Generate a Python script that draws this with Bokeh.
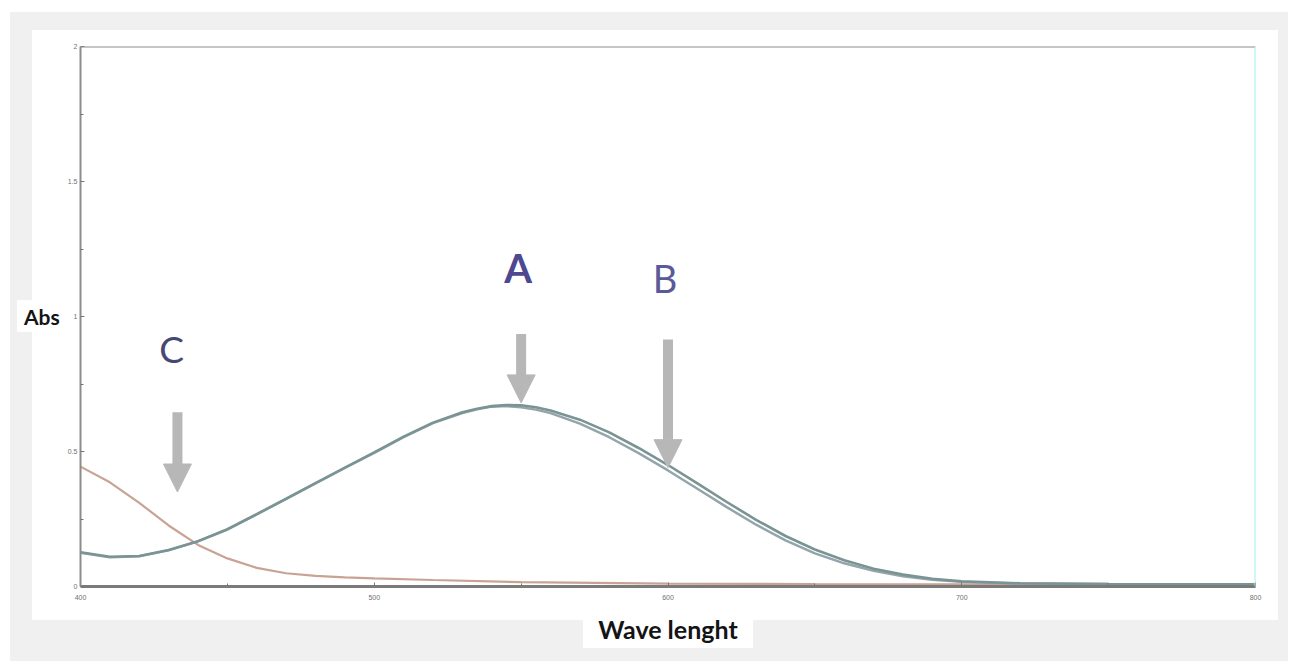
from bokeh.plotting import figure
from bokeh.models import Range1d, FixedTicker, Label, Span, Arrow, NormalHead
from bokeh.embed import file_html
from bokeh.resources import INLINE

# ---------------- data ----------------
wl_ab = [400, 410, 420, 430, 440, 450, 460, 470, 480, 490, 500, 510, 520, 530, 535, 540, 545, 550,
         555, 560, 570, 580, 590, 600, 610, 620, 630, 640, 650, 660, 670, 680, 690, 700, 720, 750, 800]
abs_a = [0.127, 0.110, 0.113, 0.135, 0.168, 0.212, 0.268, 0.325, 0.383, 0.440, 0.497, 0.555,
         0.607, 0.645, 0.658, 0.668, 0.672, 0.671, 0.664, 0.652, 0.618, 0.571, 0.513, 0.450,
         0.382, 0.313, 0.247, 0.187, 0.137, 0.097, 0.066, 0.044, 0.029, 0.019, 0.012, 0.009, 0.008]
abs_b = [0.125, 0.108, 0.112, 0.134, 0.167, 0.211, 0.267, 0.324, 0.382, 0.439, 0.495, 0.553,
         0.605, 0.642, 0.656, 0.666, 0.668, 0.664, 0.655, 0.642, 0.603, 0.553, 0.494, 0.430,
         0.362, 0.294, 0.229, 0.171, 0.123, 0.086, 0.058, 0.038, 0.025, 0.017, 0.011, 0.009, 0.008]
wl_c = [400, 410, 420, 430, 440, 450, 460, 470, 480, 490, 500, 520, 550, 600, 650, 700, 800]
abs_c = [0.444, 0.386, 0.310, 0.226, 0.154, 0.104, 0.069, 0.049, 0.039, 0.034, 0.030, 0.024,
         0.016, 0.011, 0.009, 0.008, 0.007]

x_ticks = [400, 500, 600, 700, 800]
x_minor = [450, 550, 650, 750]
y_ticks = [0, 0.5, 1, 1.5, 2]
y_minor = [0.25, 0.75, 1.25, 1.75]
y_tick_labels = ["0", "0.5", "1", "1.5", "2"]

# annotation arrows and letters
marker_names = ["A", "B", "C"]
arrow_x = [550, 600, 433]
arrow_top = [0.935, 0.915, 0.645]
arrow_tip = [0.68, 0.44, 0.35]
letter_x = [549, 599, 431]
letter_y = [1.178, 1.144, 0.881]

# ---------------- figure ----------------
W, H = 1298, 661
p = figure(width=W, height=H, output_backend="svg", toolbar_location=None,
           x_range=Range1d(400, 800), y_range=Range1d(0, 2),
           min_border_left=80, min_border_right=43, min_border_top=46, min_border_bottom=75)
p.border_fill_color = None
p.background_fill_color = "white"
p.grid.visible = False
p.outline_line_color = None

# page-like backdrop: gray band with white panels (CSS on the plot element)
p.styles = {
    "background": (
        "linear-gradient(#ffffff,#ffffff) 17px 300px / 47px 32px no-repeat, "
        "linear-gradient(#ffffff,#ffffff) 583px 608px / 170px 40px no-repeat, "
        "linear-gradient(#ffffff,#ffffff) 32px 30px / 1246px 590px no-repeat, "
        "linear-gradient(#f0f0f0,#f0f0f0) 10px 12px / 1278px 649px no-repeat, "
        "#ffffff"
    )
}

# axes
for ax in (p.xaxis[0], p.yaxis[0]):
    ax.major_label_text_font_size = "7px"
    ax.major_label_text_color = "#707070"
    ax.major_tick_in = 4
    ax.major_tick_out = 0
    ax.minor_tick_in = 3
    ax.minor_tick_out = 0
    ax.major_tick_line_color = "#777777"
    ax.minor_tick_line_color = "#777777"
    ax.axis_label_text_font = "Lato"
    ax.axis_label_text_font_style = "bold"
    ax.axis_label_text_color = "#141414"
p.xaxis.ticker = FixedTicker(ticks=x_ticks, minor_ticks=x_minor)
p.yaxis.ticker = FixedTicker(ticks=y_ticks, minor_ticks=y_minor)
p.yaxis.major_label_overrides = {t: s for t, s in zip(y_ticks, y_tick_labels)}
p.xaxis.axis_line_color = "#7a7a7a"
p.xaxis.axis_line_width = 3
p.yaxis.axis_line_color = "#8c8c8c"
p.yaxis.axis_line_width = 2
p.xaxis.major_label_standoff = 8
p.yaxis.major_label_standoff = 3

p.xaxis.axis_label = "Wave lenght"
p.xaxis.axis_label_text_font_size = "25px"
p.xaxis.axis_label_standoff = 11
p.yaxis.axis_label = "Abs"
p.yaxis.axis_label_text_font_size = "21px"
p.yaxis.axis_label_standoff = 5
try:
    p.yaxis.axis_label_orientation = "horizontal"
except Exception:
    pass

# top gray edge and right cyan edge
p.add_layout(Span(location=2, dimension="width", line_color="#8c8c8c", line_width=2))
p.add_layout(Span(location=800, dimension="height", line_color="#a6ecee", line_width=2))

# curves
p.line(wl_c, abs_c, line_color="#c8a394", line_width=2.2)
p.line(wl_ab, abs_b, line_color="#93a4ab", line_width=2.4)
p.line(wl_ab, abs_a, line_color="#7a9494", line_width=2.6)

# arrows
for xa, yt, yb in zip(arrow_x, arrow_top, arrow_tip):
    p.add_layout(Arrow(x_start=xa, y_start=yt, x_end=xa, y_end=yb,
                       line_color="#b7b7b7", line_width=10,
                       end=NormalHead(size=28, fill_color="#b7b7b7", line_color="#b7b7b7", line_width=1)))

letter_colors = ["#4e4890", "#5a5a98", "#474775"]
letter_weights = ["bold", "normal", "normal"]
letter_sizes = ["40px", "38px", "37px"]
for name, lx, ly, c, w, s in zip(marker_names, letter_x, letter_y, letter_colors, letter_weights, letter_sizes):
    p.add_layout(Label(x=lx, y=ly, text=name, text_align="center", text_baseline="middle",
                       text_font="Lato", text_font_size=s, text_color=c, text_font_style=w))

open("out.html", "w").write(file_html(p, INLINE))
